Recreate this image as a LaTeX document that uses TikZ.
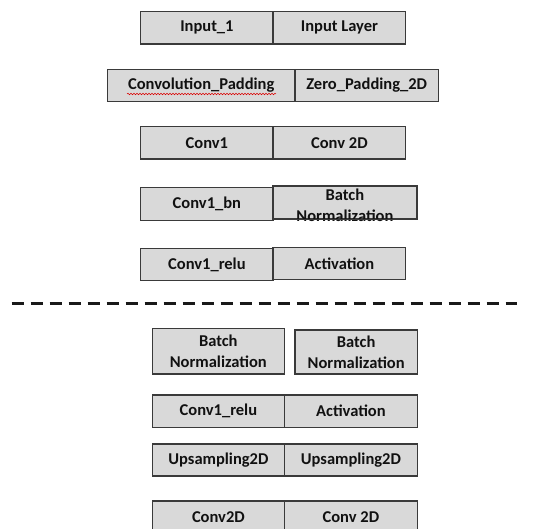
\documentclass[tikz,border=0pt]{standalone}
\usepackage{fontspec}
\setmainfont{Carlito}
\usetikzlibrary{decorations.pathmorphing}
\definecolor{cellfill}{HTML}{D9D9D9}
\definecolor{cellline}{HTML}{3A3A3A}
\definecolor{celltext}{HTML}{111111}
\tikzset{
  cell/.style={draw=cellline, fill=cellfill, line width=1.3pt, inner sep=0pt,
    text=celltext, font=\fontsize{16.5}{21}\selectfont\bfseries, align=center,
    minimum height=32.3pt},
  cellbox/.style={draw=cellline, fill=cellfill, line width=1.3pt, inner sep=0pt},
  celllabel/.style={inner sep=0pt, text=celltext, align=center,
    font=\fontsize{16.5}{21}\selectfont\bfseries},
  divider/.style={line width=3pt, dash pattern=on 12pt off 7pt, black!90},
  spellmark/.style={draw=red!85!black, line width=0.5pt,
    decorate, decoration={snake, amplitude=0.8pt, segment length=3pt}}
}
\begin{document}
\begin{tikzpicture}[x=1pt, y=-1pt]
\useasboundingbox (0,0) rectangle (536,529);
\clip (0,0) rectangle (536,529);

% encoder stem
\node[cell, minimum width=132.3pt] (in1)  at (206.9,27.9) {Input\_1};
\node[cell, minimum width=132.7pt] (in1t) at (339.4,27.9) {Input Layer};

\node[cell, minimum width=187.7pt] (pad)  at (201.2,85.4) {Convolution\_Padding};
\node[cell, minimum width=143.3pt] (padt) at (366.7,85.4) {Zero\_Padding\_2D};
\coordinate (spellA) at (127,94);
\coordinate (spellB) at (276,94);
\draw[spellmark] (spellA) -- (spellB);

\node[cell, minimum width=132.3pt] (c1)  at (206.9,142.9) {Conv1};
\node[cell, minimum width=132.7pt] (c1t) at (339.4,142.9) {Conv 2D};

\node[cell, minimum width=132.3pt, minimum height=32.6pt] (bn) at (206.9,204) {Conv1\_bn};
\node[cellbox, minimum width=143.7pt, minimum height=32.3pt] (bnt) at (344.9,202.9) {};
\node[celllabel] (bntlabel) at (344.9,205) {Batch\\Normalization};
\draw[cellline, line width=1.3pt] (bnt.north west) rectangle (bnt.south east);

\node[cell, minimum width=132.3pt] (relu)  at (206.9,264.5) {Conv1\_relu};
\node[cell, minimum width=132.7pt] (relut) at (339.4,263.5) {Activation};

% split between the two halves
\coordinate (cutL) at (11.7,304);
\coordinate (cutR) at (517,304);
\draw[divider] (cutL) -- (cutR);

% decoder head
\node[cell, minimum width=132pt, minimum height=45.7pt] (dbn)  at (218.3,351.2) {Batch\\Normalization};
\node[cell, minimum width=122.3pt, minimum height=44pt] (dbnt) at (356.2,352) {Batch\\Normalization};

\node[cell, minimum width=132.2pt] (drelu)  at (218.4,411.2) {Conv1\_relu};
\node[cell, minimum width=132.8pt] (drelut) at (350.9,411.2) {Activation};

\node[cell, minimum width=132.2pt, minimum height=32pt] (up)  at (218.4,460) {Upsampling2D};
\node[cell, minimum width=132.8pt, minimum height=32pt] (upt) at (350.9,460) {Upsampling2D};

\node[cell, minimum width=132.2pt, minimum height=32pt] (dc)  at (218.4,517) {Conv2D};
\node[cell, minimum width=132.8pt, minimum height=32pt] (dct) at (350.9,517) {Conv 2D};
\end{tikzpicture}
\end{document}
